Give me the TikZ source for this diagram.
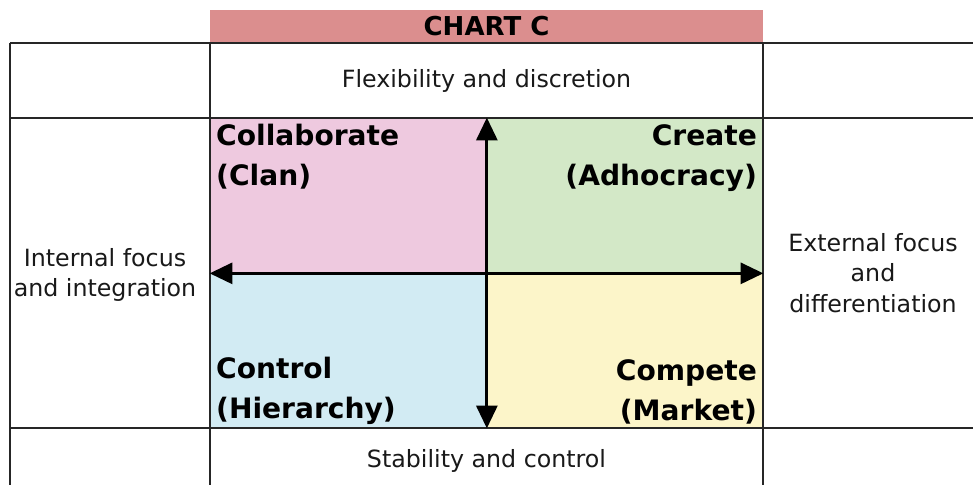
\documentclass[tikz,border=0pt]{standalone}
\usepackage{fontspec}
\setmainfont{DejaVu Sans}
\usetikzlibrary{arrows.meta}
\usepackage{xcolor}

\definecolor{titlered}{RGB}{219,142,142}
\definecolor{clanpink}{RGB}{238,201,223}
\definecolor{adhocgreen}{RGB}{211,232,199}
\definecolor{hierblue}{RGB}{210,235,243}
\definecolor{marketyellow}{RGB}{252,245,201}

\tikzset{
  quad/.style={rectangle,inner sep=0pt,minimum width=5.53cm,minimum height=3.1cm},
  titlebar/.style={rectangle,fill=titlered,inner sep=0pt,minimum width=11.06cm,minimum height=0.66cm,font=\fontsize{14.8}{17}\selectfont\bfseries},
  qlabel/.style={inner sep=3.5pt,font=\fontsize{16}{22.8}\selectfont\bfseries},
  axislabel/.style={align=center,font=\fontsize{13.5}{17.5}\selectfont,text=black!90},
  gridline/.style={line width=1.25pt,black!85},
  axis/.style={<->,>={Triangle[length=13pt,width=12pt]},line width=1.7pt}
}

\begin{document}
\begin{tikzpicture}
\useasboundingbox (0,0) rectangle (19.46,9.7);
\node[titlebar] (chart) at (9.73,9.17) {CHART C};
\node[quad,fill=clanpink] (clan) at (6.965,5.79) {};
\node[quad,fill=adhocgreen] (adhoc) at (12.495,5.79) {};
\node[quad,fill=hierblue] (hier) at (6.965,2.69) {};
\node[quad,fill=marketyellow] (market) at (12.495,2.69) {};
\draw[gridline] (0.2,8.84) -- (19.46,8.84);
\draw[gridline] (0.2,7.34) -- (19.46,7.34);
\draw[gridline] (0.2,1.14) -- (19.46,1.14);
\draw[gridline] (0.2,8.84) -- (0.2,0);
\draw[gridline] (4.2,8.84) -- (4.2,0);
\draw[gridline] (15.26,8.84) -- (15.26,0);
\node[axislabel] (flexibility) at (9.73,8.08) {Flexibility and discretion};
\node[axislabel] (stability) at (9.73,0.48) {Stability and control};
\node[axislabel] (internal) at (2.1,4.2) {Internal focus\\and integration};
\node[axislabel] (external) at (17.46,4.24) {External focus\\and\\differentiation};
\node[qlabel,anchor=north west,align=left] (collaborate) at (clan.north west) {Collaborate\\(Clan)};
\node[qlabel,anchor=north east,align=right] (create) at (adhoc.north east) {Create\\(Adhocracy)};
\node[qlabel,inner ysep=2pt,anchor=south west,align=left] (control) at (hier.south west) {Control\\(Hierarchy)};
\node[qlabel,inner ysep=2pt,anchor=south east,align=right] (compete) at (market.south east) {Compete\\(Market)};
\draw[axis] (hier.south east) -- (clan.north east);
\draw[axis] (clan.south west) -- (adhoc.south east);
\end{tikzpicture}
\end{document}
